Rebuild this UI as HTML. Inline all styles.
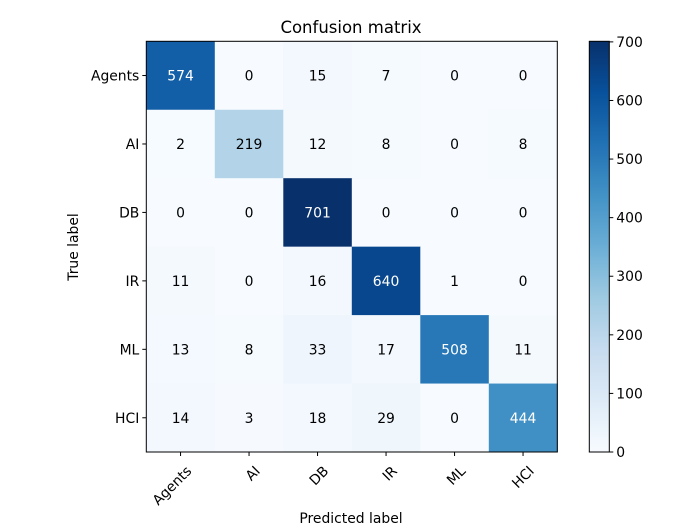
<!DOCTYPE html>
<html><head><meta charset="utf-8"><style>body{margin:0;background:#fff}svg{display:block}text{font-family:"DejaVu Sans","Liberation Sans",sans-serif}</style></head>
<body>
<svg id="chart" width="700" height="528" xmlns="http://www.w3.org/2000/svg">
<rect width="700" height="528" fill="#fff"/>
<text x="351" y="33" font-size="16.5" text-anchor="middle">Confusion matrix</text>
<g id="cells"></g><g id="axes"></g>
<text x="351" y="523" font-size="13.9" text-anchor="middle">Predicted label</text>
<text transform="translate(78,247) rotate(-90)" font-size="13.9" text-anchor="middle">True label</text>
</svg>
<script>
const classes=["Agents","AI","DB","IR","ML","HCI"];
const row0=[574,0,15,7,0,0];
const row1=[2,219,12,8,0,8];
const row2=[0,0,701,0,0,0];
const row3=[11,0,16,640,1,0];
const row4=[13,8,33,17,508,11];
const row5=[14,3,18,29,0,444];
const cbTicks=[0,100,200,300,400,500,600,700];
const matrix=[row0,row1,row2,row3,row4,row5];
const NS="http://www.w3.org/2000/svg";
const L=146.3,R=557.3,T=41.3,B=452,CBL=589.3,CBR=609.3;
const n=classes.length,cw=(R-L)/n,ch=(B-T)/n;
const vmax=Math.max(...matrix.flat()),vmin=Math.min(...matrix.flat());
const stops=["#f7fbff","#deebf7","#c6dbef","#9ecae1","#6baed6","#4292c6","#2171b5","#08519c","#08306b"];
function hx(c){return[1,3,5].map(i=>parseInt(c.substr(i,2),16));}
function blues(t){t=Math.max(0,Math.min(1,t));const p=t*8,i=Math.min(7,Math.floor(p)),f=p-i;const a=hx(stops[i]),b=hx(stops[i+1]);return"rgb("+a.map((v,k)=>Math.round(v+(b[k]-v)*f)).join(",")+")";}
function xs(j){return L+j*cw;} function ys(i){return T+i*ch;}
function cby(v){return B-(v-vmin)/(vmax-vmin)*(B-T);}
function mk(tag,at,parent){const e=document.createElementNS(NS,tag);for(const k in at)e.setAttribute(k,at[k]);parent.appendChild(e);return e;}
const cells=document.getElementById("cells"),axes=document.getElementById("axes");
matrix.forEach((row,i)=>row.forEach((v,j)=>{
 const r=mk("rect",{x:xs(j),y:ys(i),width:cw+0.5,height:ch+0.5,fill:blues((v-vmin)/(vmax-vmin))},cells);
 
 
 const t=mk("text",{x:xs(j)+cw/2,y:ys(i)+ch/2+5,"font-size":13.9,"text-anchor":"middle",fill:v>vmax/2?"#fff":"#000"},cells);
 t.textContent=v;
 
 
}));
const fr=mk("rect",{x:L,y:T,width:R-L,height:B-T,fill:"none",stroke:"#000","stroke-width":1},axes);


classes.forEach((c,k)=>{
 const cx=xs(k)+cw/2,cy=ys(k)+ch/2;
 mk("line",{x1:cx,x2:cx,y1:B,y2:B+4,stroke:"#000"},axes);
 const tx=mk("text",{transform:`translate(${cx+4},${B+12}) rotate(-45)`,"font-size":13.9,"text-anchor":"end",dy:"0.8em"},axes);
 tx.textContent=c;
 
 
 mk("line",{x1:L-4,x2:L,y1:cy,y2:cy,stroke:"#000"},axes);
 const ty=mk("text",{x:L-7,y:cy+5,"font-size":13.9,"text-anchor":"end"},axes);
 ty.textContent=c;
 
 
});
const defs=mk("defs",{},axes);
const g=mk("linearGradient",{id:"cbg",x1:0,y1:1,x2:0,y2:0},defs);
for(let s=0;s<=8;s++)mk("stop",{offset:s/8,"stop-color":stops[s]},g);
const cb=mk("rect",{x:CBL,y:T,width:CBR-CBL,height:B-T,fill:"url(#cbg)",stroke:"#000"},axes);


cbTicks.forEach(v=>{
 const y=cby(v);
 mk("line",{x1:CBR,x2:CBR+4,y1:y,y2:y,stroke:"#000"},axes);
 const t=mk("text",{x:CBR+7,y:y+5,"font-size":13.9},axes);
 t.textContent=v;
 
 
});
</script>
</body></html>
